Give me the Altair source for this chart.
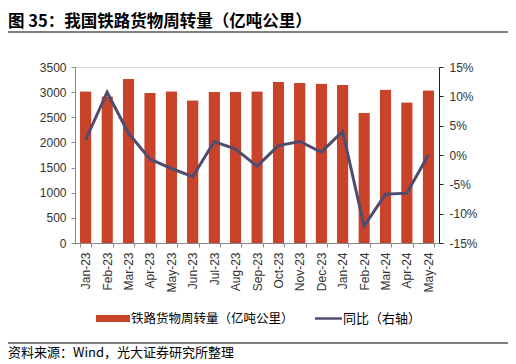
import altair as alt
import pandas as pd

months = ["Jan-23", "Feb-23", "Mar-23", "Apr-23", "May-23", "Jun-23", "Jul-23", "Aug-23",
          "Sep-23", "Oct-23", "Nov-23", "Dec-23", "Jan-24", "Feb-24", "Mar-24", "Apr-24", "May-24"]
volume = [3018, 2919, 3263, 2985, 3018, 2840, 3005, 3005, 3018, 3203, 3184, 3170, 3144, 2589, 3051, 2800, 3038]
yoy = [2.6, 10.7, 3.7, -0.7, -2.3, -3.7, 2.3, 1.0, -1.9, 1.6, 2.3, 0.5, 4.0, -12.1, -6.7, -6.5, 0.0]

title_text = "图 35：我国铁路货物周转量（亿吨公里）"
legend_bar = "铁路货物周转量（亿吨公里）"
legend_line = "同比（右轴）"
source_text = "资料来源：Wind，光大证券研究所整理"

df = pd.DataFrame({"month": months, "volume": volume, "yoy": yoy})

BAR = "#C9432A"
LINE = "#4F4C70"
NUM_FONT = "Liberation Sans"
CJK = "Noto Sans CJK SC"

xenc = alt.X("month:N", sort=months, title=None,
             scale=alt.Scale(paddingInner=0.46, paddingOuter=0.23),
             axis=alt.Axis(labelAngle=-90, labelFont=NUM_FONT, labelFontSize=12,
                           labelColor="#333333", domainColor="#888888", tickColor="#888888",
                           tickBand="extent", tickSize=4, labelPadding=5))

bars = alt.Chart(df).mark_bar(color=BAR, cornerRadius=1).encode(
    x=xenc,
    y=alt.Y("volume:Q", title=None,
            scale=alt.Scale(domain=[0, 3500], nice=False),
            axis=alt.Axis(values=list(range(0, 3501, 500)), grid=False, format="d",
                          labelFont=NUM_FONT, labelFontSize=12, labelColor="#333333",
                          domainColor="#888888", tickColor="#888888", tickSize=4,
                          labelPadding=5))
)

line = alt.Chart(df).mark_line(color=LINE, strokeWidth=3).encode(
    x=alt.X("month:N", sort=months),
    y=alt.Y("yoy:Q", title=None,
            scale=alt.Scale(domain=[-15, 15], nice=False),
            axis=alt.Axis(orient="right", values=list(range(-15, 16, 5)), grid=False,
                          labelExpr="datum.value + '%'",
                          labelFont=NUM_FONT, labelFontSize=12, labelColor="#333333",
                          domainColor="#222222", tickColor="#222222", tickSize=4,
                          labelPadding=6))
)

one = pd.DataFrame({"a": [0]})

def txt(t, x, y, size=12, weight="normal", font=CJK):
    return alt.Chart(pd.DataFrame({"t": [t]})).mark_text(
        align="left", baseline="middle", fontSize=size, fontWeight=weight,
        font=font, color="#000000").encode(text="t:N", x=alt.value(x), y=alt.value(y))

title = txt(title_text, -67, -45, size=16.5, weight="bold")
rule_top = alt.Chart(one).mark_rule(color="#000000", strokeWidth=1.2).encode(
    x=alt.value(-67), x2=alt.value(435), y=alt.value(-35))
leg_rect = alt.Chart(one).mark_rect(color=BAR).encode(
    x=alt.value(21), x2=alt.value(55), y=alt.value(248), y2=alt.value(255))
leg_t1 = txt(legend_bar, 56, 251.5, size=12.5)
leg_line = alt.Chart(one).mark_rule(color=LINE, strokeWidth=2.5).encode(
    x=alt.value(240), x2=alt.value(267), y=alt.value(251.5))
leg_t2 = txt(legend_line, 268, 251.5, size=13)
rule_bot = alt.Chart(one).mark_rule(color="#000000", strokeWidth=1).encode(
    x=alt.value(-67), x2=alt.value(435), y=alt.value(276))
source = txt(source_text, -67, 286, size=13)

chart = alt.layer(bars, line, title, rule_top, leg_rect, leg_t1, leg_line, leg_t2,
                  rule_bot, source).resolve_scale(y="independent").properties(
    width=364, height=176,
    autosize=alt.AutoSizeParams(type="none"),
    padding={"left": 67, "top": 59, "right": 69, "bottom": 121},
).configure_view(stroke=None).configure(background="white")

chart.save("out.html", embed_options={"renderer": "svg", "actions": False})
